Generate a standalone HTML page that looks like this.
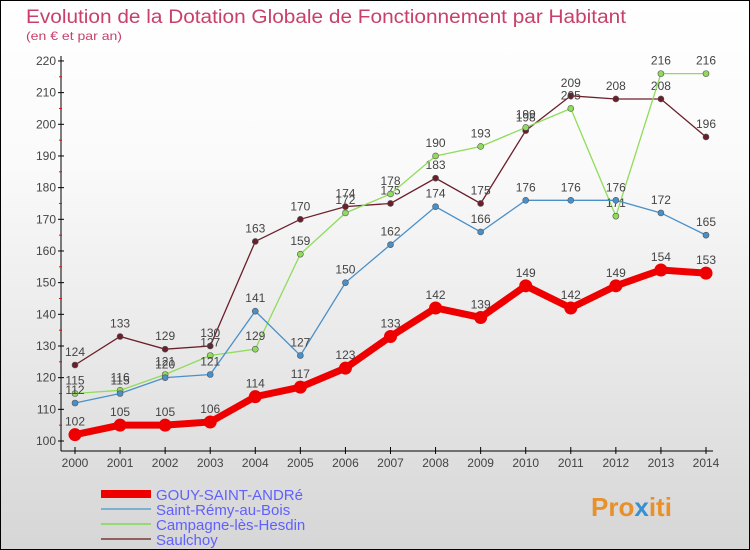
<!DOCTYPE html>
<html><head><meta charset="utf-8"><style>
body{margin:0}
#c{width:748px;height:548px;border:1px solid #000;background:linear-gradient(#fff,#fafafa 30%,#d6d6d6);position:relative;font-family:"Liberation Sans",sans-serif}
</style></head><body>
<div id="c">
<svg id="s" width="748" height="548" style="position:absolute;left:0;top:0">
<text x="25" y="22" font-size="19" fill="#c8406a" textLength="600" lengthAdjust="spacingAndGlyphs">Evolution de la Dotation Globale de Fonctionnement par Habitant</text>
<text x="25" y="39" font-size="12" fill="#c8406a" textLength="96" lengthAdjust="spacingAndGlyphs">(en € et par an)</text>
<g id="ax"></g><g id="ln"></g>
<text x="590" y="515" font-size="26" font-weight="bold" fill="#e8902a">Pro<tspan fill="#3a8fd0">x</tspan>iti</text>
</svg>
</div>
<script>
const years=[2000,2001,2002,2003,2004,2005,2006,2007,2008,2009,2010,2011,2012,2013,2014];
const yTicks=[100,110,120,130,140,150,160,170,180,190,200,210,220];
const gouy=[102,105,105,106,114,117,123,133,142,139,149,142,149,154,153];
const remy=[112,115,120,121,141,127,150,162,174,166,176,176,176,172,165];
const campagne=[115,116,121,127,129,159,172,178,190,193,199,205,171,216,216];
const saulchoy=[124,133,129,130,163,170,174,175,183,175,198,209,208,208,196];
const names=["GOUY-SAINT-ANDRé","Saint-Rémy-au-Bois","Campagne-lès-Hesdin","Saulchoy"];
const NS="http://www.w3.org/2000/svg";
const X=i=>74+i*(705-74)/(years.length-1);
const Y=v=>440-(v-100)*3.167;
function mk(p,t,a){const e=document.createElementNS(NS,t);for(const k in a)e.setAttribute(k,a[k]);p.appendChild(e);return e;}
const ax=document.getElementById('ax'),ln=document.getElementById('ln');
mk(ax,'line',{x1:60,y1:55,x2:60,y2:450,stroke:'#000'});
mk(ax,'line',{x1:60,y1:450,x2:712,y2:450,stroke:'#000'});
yTicks.forEach(v=>{
 mk(ax,'line',{x1:57,x2:63,y1:Y(v),y2:Y(v),stroke:'#000'});
 if(v<220) mk(ax,'line',{x1:58,x2:61,y1:Y(v+5),y2:Y(v+5),stroke:'#f00'});
 const t=mk(ax,'text',{x:55,y:Y(v)+4,'font-size':12,fill:'#444','text-anchor':'end'});t.textContent=v;
 
 
});
years.forEach((y,i)=>{
 mk(ax,'line',{x1:X(i),x2:X(i),y1:446,y2:453,stroke:'#000'});
 const t=mk(ax,'text',{x:X(i),y:466,'font-size':12,fill:'#444','text-anchor':'middle'});t.textContent=y;
 
 
});
const series=[[saulchoy,'#6b1f2a',1.3,3],[campagne,'#8fdc5a',1.3,3],[remy,'#4a90c8',1.3,3],[gouy,'#ee0000',7,6.5]];
series.forEach(([d,c,w,r],si)=>{
 const pl=mk(ln,'polyline',{points:d.map((v,i)=>X(i)+','+Y(v)).join(' '),fill:'none',stroke:c,'stroke-width':w});
 
 
 d.forEach((v,i)=>{
  const p=mk(ln,'circle',{cx:X(i),cy:Y(v),r:r,fill:c,stroke:si==3?c:'#555','stroke-width':si==3?0:0.6});
  
  
  const t=mk(ln,'text',{x:X(i),y:Y(v)-9,'font-size':12,fill:'#444','text-anchor':'middle'});t.textContent=v;
  
  
 });
});
const lc=['#ee0000','#7ab0d0','#98d870','#906060'],lw=[8,2,2,2];
names.forEach((n,i)=>{
 const yy=493+i*15;
 mk(ax,'line',{x1:100,x2:150,y1:yy,y2:yy,stroke:lc[i],'stroke-width':lw[i]});
 const t=mk(ax,'text',{x:155,y:yy+6,'font-size':15,fill:'#6060ff'});t.textContent=n;
 
 
});
</script>
</body></html>
